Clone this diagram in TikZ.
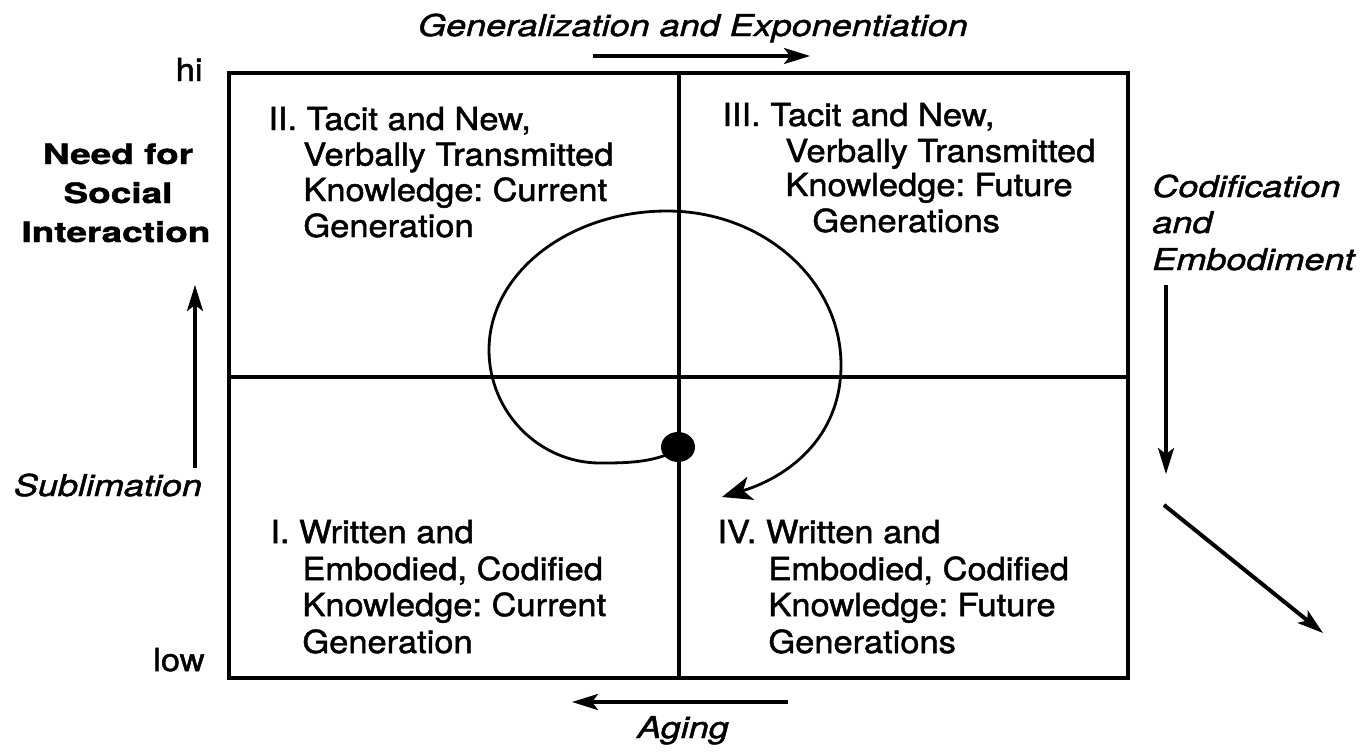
\documentclass[tikz,border=0pt]{standalone}
\usepackage{fontspec}
\setmainfont{TeX Gyre Heros}
\newfontfamily\bodyf[FakeStretch=1.09,FakeBold=1.5]{TeX Gyre Heros}
\newfontfamily\boldf[FakeStretch=1.32,FakeBold=1.5]{TeX Gyre Heros}
\newfontfamily\itf[FakeStretch=1.2,FakeBold=1.5]{TeX Gyre Heros}
\usetikzlibrary{arrows.meta,shapes.geometric}
\frenchspacing
\begin{document}
\frenchspacing
\begin{tikzpicture}[x=0.5pt,y=-0.5pt,
  body/.style={inner sep=0pt, anchor=base west, font=\bodyf\fontsize{15.8}{17.75}\selectfont},
  bodyr/.style={inner sep=0pt, anchor=base east, font=\bodyf\fontsize{15.8}{17.75}\selectfont},
  blab/.style={inner sep=0pt, anchor=base, font=\boldf\bfseries\fontsize{14}{19}\selectfont},
  ilab/.style={inner sep=0pt, anchor=base, font=\itf\itshape\fontsize{15}{18}\selectfont},
  ilabw/.style={inner sep=0pt, anchor=base west, font=\itf\itshape\fontsize{15}{18}\selectfont},
  frame/.style={line width=1.7pt},
  arr/.style={line width=1.6pt, -{Stealth[length=13pt,width=8pt,inset=3pt]}},
  spiral/.style={line width=1.4pt, -{Stealth[length=15pt,width=12pt,inset=4pt]}}
]
\useasboundingbox (0,0) rectangle (1365,751);
% frame and quadrants
\draw[frame] (229,73) rectangle (1128,678);
\coordinate (vt) at (679,73);
\coordinate (vb) at (679,678);
\coordinate (hl) at (229,377);
\coordinate (hr) at (1128,377);
\draw[frame] (vt) -- (vb);
\draw[frame] (hl) -- (hr);

% quadrant II
\node[body] (q2a) at (268,130) {II. Tacit and New,};
\node[body] (q2b) at (303,165.6) {Verbally Transmitted};
\node[body] (q2c) at (303,201) {Knowledge: Current};
\node[body] (q2d) at (303,237) {Generation};
% quadrant III
\node[body] (q3a) at (722,126) {III. Tacit and New,};
\node[body] (q3b) at (785,162) {Verbally Transmitted};
\node[body] (q3c) at (785,196) {Knowledge: Future};
\node[body] (q3d) at (812,232) {Generations};
% quadrant I
\node[body] (q1a) at (270,543) {I. Written and};
\node[body] (q1b) at (302,580) {Embodied, Codified};
\node[body] (q1c) at (302,616) {Knowledge: Current};
\node[body] (q1d) at (302,653) {Generation};
% quadrant IV
\node[body] (q4a) at (717,543) {IV. Written and};
\node[body] (q4b) at (768,580) {Embodied, Codified};
\node[body] (q4c) at (768,616) {Knowledge: Future};
\node[body] (q4d) at (768,653) {Generations};

% left labels
\node[bodyr] (hi) at (203,81) {hi};
\node[bodyr] (low) at (205,671) {low};
\node[blab] (n1) at (118,164) {Need for};
\node[blab] (n2) at (118,203) {Social};
\node[blab] (n3) at (116,242) {Interaction};
\node[ilab] (subl) at (108,496) {Sublimation};
\coordinate (ua) at (195,468);
\coordinate (ub) at (195,285);
\draw[arr] (ua) -- (ub);

% top
\node[ilab] (gen) at (693,36) {Generalization and Exponentiation};
\coordinate (ta) at (593,56);
\coordinate (tb) at (810,56);
\draw[arr] (ta) -- (tb);

% bottom
\node[ilab] (aging) at (683,738) {Aging};
\coordinate (ba) at (788,702);
\coordinate (bb) at (572,702);
\draw[arr] (ba) -- (bb);

% right
\node[ilabw] (c1) at (1152,197) {Codification};
\node[ilabw] (c2) at (1152,233) {and};
\node[ilabw] (c3) at (1152,270) {Embodiment};
\coordinate (da) at (1166,285);
\coordinate (db) at (1166,474);
\draw[arr] (da) -- (db);
\coordinate (ga) at (1164,505);
\coordinate (gb) at (1323,633);
\draw[arr, line width=2pt] (ga) -- (gb);

% spiral
\node[ellipse, fill=black, inner sep=0pt, minimum width=17pt, minimum height=15pt] (dot) at (678,447) {};
\coordinate (s0) at (666,455);
\coordinate (s1) at (600,463);
\coordinate (s2) at (489,350);
\coordinate (s3) at (667,211);
\coordinate (s4) at (841,365);
\coordinate (s5) at (722,497);
\draw[spiral] (s0) .. controls (645,463) and (620,463) .. (s1)
  .. controls (539,463) and (489,412) .. (s2)
  .. controls (489,273) and (569,211) .. (s3)
  .. controls (763,211) and (841,280) .. (s4)
  .. controls (841,440) and (785,478) .. (s5);
\end{tikzpicture}
\end{document}
